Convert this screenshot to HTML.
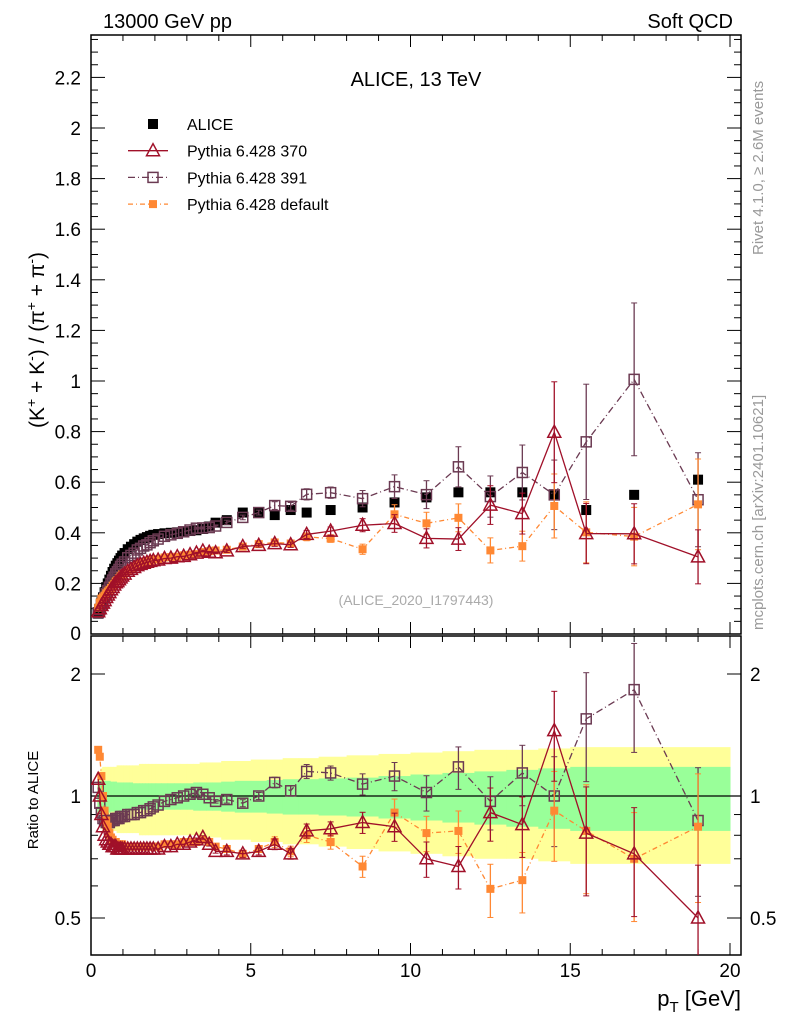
<!DOCTYPE html>
<html><head><meta charset="utf-8"><style>
body{margin:0;background:#fff;}
svg{display:block;font-family:"Liberation Sans",sans-serif;}
</style></head><body>
<svg id="c" width="786" height="1024" viewBox="0 0 786 1024">
<text x="103" y="28" font-size="20">13000 GeV pp</text>
<text x="733" y="28" font-size="20" text-anchor="end">Soft QCD</text>
<text x="416" y="86" font-size="20" text-anchor="middle">ALICE, 13 TeV</text>
<text x="416" y="605" font-size="14" fill="#aaa" text-anchor="middle">(ALICE_2020_I1797443)</text>
<text transform="translate(763,255) rotate(-90)" font-size="15" fill="#999">Rivet 4.1.0, ≥ 2.6M events</text>
<text transform="translate(763,630) rotate(-90)" font-size="15" fill="#999">mcplots.cern.ch [arXiv:2401.10621]</text>
<text transform="translate(44,340) rotate(-90)" font-size="21" text-anchor="middle">(K<tspan dy="-8" font-size="14">+</tspan><tspan dy="8"> + K</tspan><tspan dy="-8" font-size="14">-</tspan><tspan dy="8">) / (π</tspan><tspan dy="-8" font-size="14">+</tspan><tspan dy="8"> + π</tspan><tspan dy="-8" font-size="14">-</tspan><tspan dy="8">)</tspan></text>
<text transform="translate(38,800) rotate(-90)" font-size="15" text-anchor="middle">Ratio to ALICE</text>
<text x="741" y="1006" font-size="22" text-anchor="end">p<tspan dy="6" font-size="15">T</tspan><tspan dy="-6"> [GeV]</tspan></text>
<g id="g"></g>
</svg>
<script>
const pT=[0.225,0.275,0.325,0.375,0.425,0.475,0.525,0.575,0.625,0.675,0.725,0.775,0.825,0.875,0.925,0.975,
1.05,1.15,1.25,1.35,1.45,1.55,1.65,1.75,1.85,1.95,
2.1,2.3,2.5,2.7,2.9,3.1,3.3,3.5,3.7,3.9,
4.25,4.75,5.25,5.75,6.25,6.75,7.5,8.5,9.5,10.5,11.5,12.5,13.5,14.5,15.5,17,19];
const alice=[0.08,0.10,0.125,0.145,0.165,0.185,0.2,0.215,0.23,0.245,0.258,0.27,0.28,0.29,0.30,0.31,
0.32,0.335,0.345,0.355,0.365,0.372,0.378,0.383,0.388,0.392,
0.395,0.398,0.40,0.402,0.404,0.407,0.41,0.415,0.425,0.44,
0.45,0.48,0.48,0.47,0.49,0.48,0.49,0.50,0.52,0.54,0.56,0.56,0.56,0.55,0.49,0.55,0.61];
const ratio370=[1.1,1.0,0.9,0.84,0.8,0.78,0.77,0.76,0.76,0.75,0.75,0.75,0.74,0.74,0.74,0.74,
0.74,0.74,0.74,0.74,0.74,0.74,0.74,0.74,0.74,0.74,
0.74,0.75,0.75,0.76,0.76,0.77,0.78,0.79,0.76,0.73,
0.73,0.72,0.73,0.76,0.72,0.82,0.83,0.86,0.84,0.70,0.67,0.91,0.85,1.45,0.81,0.72,0.5];
const ratio391=[1.05,0.96,0.91,0.88,0.87,0.86,0.86,0.86,0.87,0.87,0.87,0.88,0.88,0.88,0.89,0.89,
0.89,0.9,0.9,0.9,0.91,0.91,0.92,0.92,0.93,0.94,
0.95,0.97,0.98,0.99,1.0,1.01,1.02,1.01,0.99,0.97,
0.98,0.96,1.0,1.08,1.03,1.15,1.14,1.07,1.12,1.02,1.18,0.97,1.14,1.0,1.55,1.83,0.87];
const ratioDef=[1.3,1.25,1.12,1.0,0.92,0.87,0.84,0.81,0.79,0.78,0.77,0.77,0.76,0.76,0.76,0.76,
0.75,0.75,0.75,0.75,0.75,0.75,0.75,0.75,0.75,0.75,
0.75,0.76,0.76,0.76,0.77,0.77,0.77,0.78,0.77,0.75,
0.74,0.72,0.74,0.77,0.73,0.8,0.77,0.67,0.91,0.81,0.82,0.59,0.62,0.92,0.82,0.70,0.84];
const mcErr=[0,0,0,0,0,0,0,0,0,0,0,0,0,0,0,0, 0,0,0,0,0,0,0,0,0,0, 0,0,0,0,0,0,0.01,0.01,0.01,0.01,
0.02,0.02,0.02,0.03,0.03,0.04,0.04,0.06,0.08,0.1,0.12,0.15,0.17,0.25,0.3,0.3,0.35];
const bandInner=[0.09,0.09,0.09,0.09,0.09,0.09,0.09,0.09,0.085,0.085,0.085,0.085,0.08,0.08,0.08,0.08,
0.08,0.08,0.08,0.075,0.075,0.075,0.075,0.075,0.075,0.075,
0.075,0.075,0.075,0.075,0.075,0.075,0.08,0.08,0.08,0.08,
0.085,0.09,0.09,0.095,0.1,0.1,0.105,0.11,0.12,0.13,0.14,0.15,0.16,0.17,0.18,0.18,0.18];
const bandOuter=[0.1,0.15,0.17,0.18,0.18,0.18,0.18,0.18,0.18,0.18,0.18,0.18,0.19,0.19,0.19,0.19,
0.19,0.19,0.19,0.19,0.19,0.2,0.2,0.2,0.2,0.2,
0.2,0.2,0.2,0.2,0.2,0.2,0.2,0.21,0.21,0.21,
0.22,0.22,0.23,0.23,0.24,0.24,0.25,0.26,0.27,0.28,0.29,0.3,0.3,0.31,0.32,0.32,0.32];
const xTicks=[0,5,10,15,20];
const yTicks=[0.2,0.4,0.6,0.8,1,1.2,1.4,1.6,1.8,2,2.2];
const rTicks=[0.5,1,2];

const NS="http://www.w3.org/2000/svg";
const g=document.getElementById('g');
const X0=91,X1=741,T=35,B=634,RT=636,RB=955;
const xs=p=>X0+p*31.95;
const ym=v=>634-v*253;
const yr=r=>796-Math.log2(r)*122;
function el(t,a,p){const e=document.createElementNS(NS,t);for(const k in a)e.setAttribute(k,a[k]);(p||g).appendChild(e);return e;}
const edges=pT.map((p,i)=>{const l=i==0?0.2:(pT[i-1]+p)/2;const r=i==pT.length-1?20:(pT[i+1]+p)/2;return[l,r];});
const bands=el('g',{});


const clip=el('clipPath',{id:'rc'});el('rect',{x:X0,y:RT,width:X1-X0,height:RB-RT},clip);
const clip2=el('clipPath',{id:'mc'});el('rect',{x:X0,y:T,width:X1-X0,height:B-T},clip2);
bands.setAttribute('clip-path','url(#rc)');
pT.forEach((p,i)=>{const[l,r]=edges[i];
 const a=el('rect',{x:xs(l),y:yr(1+bandOuter[i]),width:xs(r)-xs(l)+0.5,height:yr(1-bandOuter[i])-yr(1+bandOuter[i]),fill:'#ffff99'},bands);
 
 });
pT.forEach((p,i)=>{const[l,r]=edges[i];
 const a=el('rect',{x:xs(l),y:yr(1+bandInner[i]),width:xs(r)-xs(l)+0.5,height:yr(1-bandInner[i])-yr(1+bandInner[i]),fill:'#99ff99'},bands);
 
 });
const one=el('line',{x1:X0,x2:X1,y1:yr(1),y2:yr(1),stroke:'#000','stroke-width':1.2});


function frame(top,bot,name){const f=el('rect',{x:X0,y:top,width:X1-X0,height:bot-top,fill:'none',stroke:'#000','stroke-width':1.5});
 
 
 for(let v=0;v<=20.3;v+=1){const M=v%5==0;const L=M?12:6;
  el('line',{x1:xs(v),x2:xs(v),y1:bot,y2:bot-L,stroke:'#000'});el('line',{x1:xs(v),x2:xs(v),y1:top,y2:top+L,stroke:'#000'});}}
frame(T,B,'main-plot-frame');frame(RT,RB,'ratio-plot-frame');
for(let v=0;v<=2.36;v+=0.05){const k=Math.round(v*20);const L=k%4==0?14:7;el('line',{x1:X0,x2:X0+L,y1:ym(v),y2:ym(v),stroke:'#000'});el('line',{x1:X1,x2:X1-L,y1:ym(v),y2:ym(v),stroke:'#000'});}
yTicks.forEach(v=>{const t=el('text',{x:81,y:ym(v)+7,'font-size':19,'text-anchor':'end'});t.textContent=String(v);
 
 });
const z=el('text',{x:81,y:640,'font-size':19,'text-anchor':'end'});z.textContent='0';
[0.5,0.6,0.7,0.8,0.9,1,2].forEach(v=>{const L=(v==0.5||v==1||v==2)?14:7;el('line',{x1:X0,x2:X0+L,y1:yr(v),y2:yr(v),stroke:'#000'});el('line',{x1:X1,x2:X1-L,y1:yr(v),y2:yr(v),stroke:'#000'});});
rTicks.forEach(v=>{const a=el('text',{x:81,y:yr(v)+7,'font-size':19,'text-anchor':'end'});a.textContent=String(v);
 
 
 const b=el('text',{x:750,y:yr(v)+7,'font-size':19});b.textContent=String(v);
 
 });
xTicks.forEach(v=>{const t=el('text',{x:xs(v),y:977,'font-size':19,'text-anchor':'middle'});t.textContent=String(v);
 
 });
function marker(type,cx,cy,col,parent){
 if(type=='fsq')return el('rect',{x:cx-5,y:cy-5,width:10,height:10,fill:col},parent);
 if(type=='ssq')return el('rect',{x:cx-4,y:cy-4,width:8,height:8,fill:col},parent);
 if(type=='osq')return el('rect',{x:cx-5,y:cy-5,width:10,height:10,fill:'none',stroke:col,'stroke-width':1.5},parent);
 return el('polygon',{points:`${cx},${cy-7} ${cx-6.5},${cy+5} ${cx+6.5},${cy+5}`,fill:'none',stroke:col,'stroke-width':1.5},parent);}
const series=[
 {name:'pythia-391',r:ratio391,col:'#6b3a52',m:'osq',dash:'7,3,1,3'},
 {name:'pythia-default',r:ratioDef,col:'#ff8833',m:'ssq',dash:'5,3,1,3'},
 {name:'pythia-370',r:ratio370,col:'#a01029',m:'tri',dash:''}];
const ag=el('g',{'clip-path':'url(#mc)'});


series.forEach(s=>{
 [['main',v=>ym(v),(i)=>alice[i]*s.r[i],'url(#mc)'],['ratio',v=>yr(v),(i)=>s.r[i],'url(#rc)']].forEach(([pn,yf,val,cp])=>{
  const sg=el('g',{'clip-path':cp});
  
  
  const pts=pT.map((p,i)=>xs(p)+','+yf(val(i))).join(' ');
  el('polyline',{points:pts,fill:'none',stroke:s.col,'stroke-width':1.3,'stroke-dasharray':s.dash},sg);
  pT.forEach((p,i)=>{const v=val(i),e=mcErr[i]*v;if(e>0){const x=xs(p);
   el('line',{x1:x,x2:x,y1:yf(v+e),y2:yf(Math.max(v-e,0.01)),stroke:s.col,'stroke-width':1.3},sg);
   el('line',{x1:x-3,x2:x+3,y1:yf(v+e),y2:yf(v+e),stroke:s.col},sg);
   el('line',{x1:x-3,x2:x+3,y1:yf(Math.max(v-e,0.01)),y2:yf(Math.max(v-e,0.01)),stroke:s.col},sg);}
   const mk=marker(s.m,xs(p),yf(v),s.col,sg);
   
   });
 });
});
pT.forEach((p,i)=>{const mk=marker('fsq',xs(p),ym(alice[i]),'#000',ag);
 
 });
const lg=el('g',{});


const leg=[['ALICE','fsq','#000',''],['Pythia 6.428 370','tri','#a01029',''],['Pythia 6.428 391','osq','#6b3a52','7,3,1,3'],['Pythia 6.428 default','ssq','#ff8833','5,3,1,3']];
leg.forEach((l,i)=>{const y=124+i*26.7;const e=el('g',{},lg);
 
 
 if(i>0)el('line',{x1:128,x2:168,y1:y,y2:y,stroke:l[2],'stroke-width':1.3,'stroke-dasharray':l[3]},e);
 marker(l[1],153,y,l[2],e);
 const t=el('text',{x:187,y:y+6,'font-size':16},e);t.textContent=l[0];});
</script>
</body></html>
